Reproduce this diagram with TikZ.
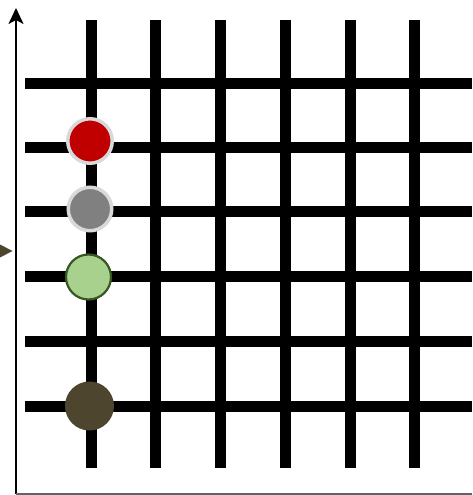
\documentclass[tikz,border=0pt]{standalone}
\usetikzlibrary{arrows.meta}
\definecolor{redfill}{RGB}{192,0,0}
\definecolor{ringgray}{RGB}{217,217,217}
\definecolor{midgray}{RGB}{128,128,128}
\definecolor{greenfill}{RGB}{169,209,142}
\definecolor{greenborder}{RGB}{56,87,35}
\definecolor{darkolive}{RGB}{77,69,46}
\definecolor{axisgray}{RGB}{100,100,100}
\tikzset{
  gridline/.style={line width=11pt, black},
  dot/.style={circle, minimum size=#1, inner sep=0pt},
  axisline/.style={line width=2pt, black},
}
\begin{document}
\begin{tikzpicture}[x=1pt,y=-1pt]
\useasboundingbox (0,0) rectangle (472,495);
\fill[white] (0,0) rectangle (472,495);
% grid
\foreach \x in {91,155.5,220,285,350,414.5}
  \draw[gridline] (\x,20) -- (\x,468);
\foreach \y in {83,147,211,276,341,406}
  \draw[gridline] (25,\y) -- (472,\y);
% axes
\coordinate (origin) at (16,494);
\coordinate (ytop) at (16,8);
\coordinate (xend) at (472,494);
\draw[axisline, -{Stealth[length=16pt,width=15pt,inset=4pt]}] (origin) -- (ytop);
\draw[line width=1.5pt, axisgray] (origin) -- (xend);
% left marker
\fill[darkolive] (0,244.5) -- (12.5,251) -- (0,257.5) -- cycle;
% dots
\node[dot=44.5pt, fill=redfill, draw=ringgray, line width=3.5pt] (red) at (90,141) {};
\node[dot=43.5pt, fill=midgray, draw=ringgray, line width=3.5pt] (gray) at (90,209) {};
\node[dot=45pt, fill=greenfill, draw=greenborder, line width=2.2pt] (green) at (88.5,277) {};
\node[dot=49pt, fill=darkolive] (dark) at (89.5,406) {};
\end{tikzpicture}
\end{document}
